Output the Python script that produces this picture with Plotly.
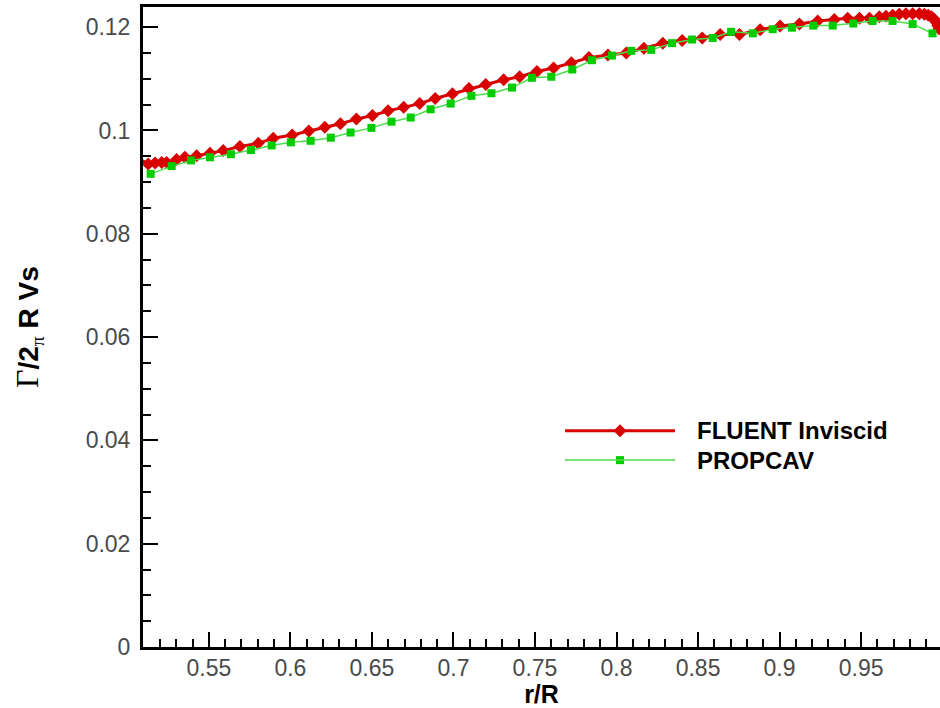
import plotly.graph_objects as go

# FLUENT Inviscid (red diamonds)
fluent_r = [0.5085, 0.5128, 0.5170, 0.5211, 0.5241, 0.5302, 0.5353, 0.5425, 0.5507, 0.5588,
            0.5690, 0.5803, 0.5895, 0.6011, 0.6113, 0.6211, 0.6307, 0.6405, 0.6503, 0.6599,
            0.6695, 0.6793, 0.6888, 0.6994, 0.7095, 0.7198, 0.7308, 0.7406, 0.7512, 0.7614,
            0.7723, 0.7831, 0.7947, 0.8060, 0.8168, 0.8284, 0.8403, 0.8526, 0.8636, 0.8754,
            0.8881, 0.9003, 0.9122, 0.9234, 0.9336, 0.9418, 0.9490, 0.9551, 0.9612, 0.9653,
            0.9694, 0.9734, 0.9775, 0.9816, 0.9857, 0.9888, 0.9912, 0.9932, 0.9949, 0.9960,
            0.9970, 0.9978]
fluent_g = [0.0943, 0.0935, 0.0937, 0.0938, 0.0938, 0.0944, 0.0948, 0.0951, 0.0956, 0.0961,
            0.0969, 0.0975, 0.0985, 0.0991, 0.0999, 0.1006, 0.1013, 0.1022, 0.1029, 0.1038,
            0.1045, 0.1052, 0.1062, 0.1071, 0.1081, 0.1089, 0.1098, 0.1104, 0.1114, 0.1121,
            0.1131, 0.1141, 0.1146, 0.1150, 0.1159, 0.1169, 0.1174, 0.1179, 0.1186, 0.1186,
            0.1195, 0.1202, 0.1206, 0.1212, 0.1215, 0.1217, 0.1217, 0.1217, 0.1220, 0.1221,
            0.1223, 0.1225, 0.1226, 0.1226, 0.1226, 0.1225, 0.1223, 0.1220, 0.1215, 0.1210,
            0.1203, 0.1197]

# PROPCAV (green squares)
propcav_r = [0.5143, 0.5272, 0.5390, 0.5507, 0.5635, 0.5758, 0.5885, 0.6003, 0.6124, 0.6248,
             0.6369, 0.6497, 0.6620, 0.6738, 0.6860, 0.6983, 0.7110, 0.7233, 0.7359, 0.7481,
             0.7600, 0.7729, 0.7849, 0.7972, 0.8090, 0.8213, 0.8341, 0.8464, 0.8590, 0.8703,
             0.8836, 0.8958, 0.9077, 0.9207, 0.9326, 0.9452, 0.9571, 0.9693, 0.9816, 0.9938]
propcav_g = [0.0916, 0.0931, 0.0942, 0.0948, 0.0954, 0.0962, 0.0971, 0.0977, 0.0980, 0.0986,
             0.0996, 0.1005, 0.1017, 0.1025, 0.1041, 0.1052, 0.1067, 0.1072, 0.1083, 0.1102,
             0.1104, 0.1118, 0.1136, 0.1145, 0.1154, 0.1156, 0.1169, 0.1176, 0.1179, 0.1191,
             0.1188, 0.1196, 0.1199, 0.1203, 0.1203, 0.1207, 0.1212, 0.1212, 0.1206, 0.1188]

x_tickvals = [0.55, 0.6, 0.65, 0.7, 0.75, 0.8, 0.85, 0.9, 0.95]
x_ticktext = ["0.55", "0.6", "0.65", "0.7", "0.75", "0.8", "0.85", "0.9", "0.95"]
y_tickvals = [0, 0.02, 0.04, 0.06, 0.08, 0.1, 0.12]
y_ticktext = ["0", "0.02", "0.04", "0.06", "0.08", "0.1", "0.12"]

series_names = ["FLUENT Inviscid", "PROPCAV"]

RED = "#d90000"
GREEN_M = "#00cc00"
GREEN_L = "#4ddd4d"

fig = go.Figure()
fig.add_trace(go.Scatter(
    x=fluent_r, y=fluent_g, mode="lines+markers", name=series_names[0],
    line=dict(color=RED, width=3),
    marker=dict(symbol="diamond", size=10, color=RED),
    cliponaxis=False, showlegend=False))
fig.add_trace(go.Scatter(
    x=propcav_r, y=propcav_g, mode="lines+markers", name=series_names[1],
    line=dict(color=GREEN_L, width=1.5),
    marker=dict(symbol="square", size=8, color=GREEN_M),
    cliponaxis=False, showlegend=False))

# Custom legend (paper coordinates)
leg_x0, leg_x1, leg_xm, leg_xt = 0.5295, 0.6675, 0.5985, 0.6926
leg_y = [0.338, 0.292]
leg_style = [(RED, 3, "diamond", 10, RED), (GREEN_L, 1.5, "square", 8, GREEN_M)]
for i, name in enumerate(series_names):
    lc, lw, sym, ms, mc = leg_style[i]
    fig.add_shape(type="line", xref="paper", yref="paper",
                  x0=leg_x0, x1=leg_x1, y0=leg_y[i], y1=leg_y[i],
                  line=dict(color=lc, width=lw))
    fig.add_trace(go.Scatter(x=[leg_xm], y=[leg_y[i]], xaxis="x2", yaxis="y2",
                             mode="markers", marker=dict(symbol=sym, size=ms, color=mc),
                             showlegend=False, hoverinfo="skip"))
    fig.add_annotation(xref="paper", yref="paper", x=leg_xt, y=leg_y[i],
                       xanchor="left", yanchor="middle", showarrow=False,
                       text="<b>" + name + "</b>",
                       font=dict(family="Liberation Sans, Arial", size=24, color="#000"))

tickfont = dict(family="Liberation Sans, Arial", size=23, color="#4a4a4a")

fig.update_layout(
    width=940, height=708,
    margin=dict(l=143, r=0, t=7, b=61),
    plot_bgcolor="white", paper_bgcolor="white",
    xaxis=dict(
        range=[0.5096, 0.9984], showgrid=False, zeroline=False,
        showline=True, linecolor="black", linewidth=3, mirror=True,
        ticks="inside", ticklen=15, tickwidth=2, tickcolor="black",
        tickmode="array", tickvals=x_tickvals, ticktext=x_ticktext,
        tickfont=tickfont, ticklabelstandoff=-2,
        minor=dict(ticks="inside", ticklen=8, tickwidth=1.5, tickcolor="black",
                   tickmode="linear", tick0=0.5, dtick=0.01),
        title=dict(text="<b>r/R</b>", standoff=4,
                   font=dict(family="Liberation Sans, Arial", size=25, color="#000")),
    ),
    yaxis=dict(
        range=[0, 0.1239], showgrid=False, zeroline=False,
        showline=True, linecolor="black", linewidth=3, mirror=False,
        ticks="inside", ticklen=15, tickwidth=2, tickcolor="black",
        tickmode="array", tickvals=y_tickvals, ticktext=y_ticktext,
        tickfont=tickfont, ticklabelstandoff=5,
        minor=dict(ticks="inside", ticklen=8, tickwidth=1.5, tickcolor="black",
                   tickmode="linear", tick0=0, dtick=0.005),
    ),
    xaxis2=dict(overlaying="x", range=[0, 1], visible=False),
    yaxis2=dict(overlaying="y", range=[0, 1], visible=False),
)

fig.add_annotation(
    xref="paper", yref="paper", x=-0.1443, y=0.5, xanchor="center", yanchor="middle",
    textangle=-90, showarrow=False,
    text="<span style='font-family:Liberation Serif;font-size:32px'>Γ</span><b>/2</b>"
         "<span style='font-family:Liberation Serif'><sub>π</sub></span><b> R Vs</b>",
    font=dict(family="Liberation Sans, Arial", size=28, color="#000"))

fig.write_html("out.html")
